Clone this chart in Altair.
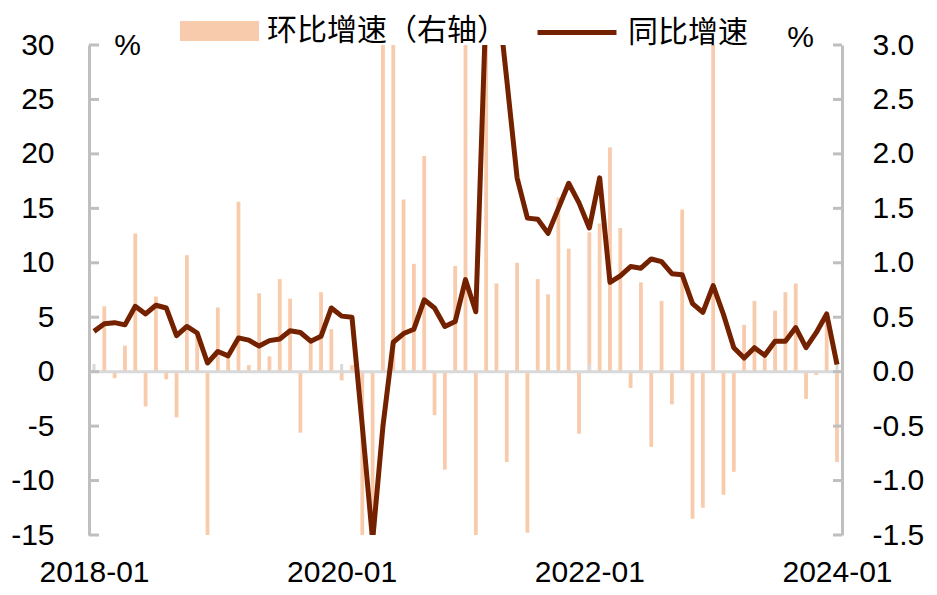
import altair as alt
import pandas as pd

# ---- data ----
months = [f"{2018 + i // 12}-{i % 12 + 1:02d}" for i in range(73)]
yoy = [3.7, 4.4, 4.5, 4.3, 6.0, 5.3, 6.1, 5.85, 3.3, 4.15, 3.55, 0.8,
       1.85, 1.45, 3.1, 2.9, 2.35, 2.85, 3.0, 3.75, 3.6, 2.8, 3.25, 5.85,
       5.1, 5.0, -5.0, -15.5, -5.0, 2.7, 3.5, 3.9, 6.6, 5.85, 4.15, 4.6,
       8.45, 5.5, 34.0, 35.6, 26.8, 17.8, 14.1, 14.0, 12.7, 15.0, 17.3, 15.5,
       13.2, 17.8, 8.2, 8.8, 9.65, 9.5, 10.35, 10.1, 9.0, 8.9, 6.25, 5.45,
       7.9, 5.25, 2.2, 1.25, 2.2, 1.5, 2.8, 2.8, 4.05, 2.2, 3.6, 5.3,
       0.65]
mom = [None, 0.60, -0.06, 0.24, 1.27, -0.32, 0.69, -0.07, -0.42, 1.07, 0.36, -1.9,
       0.59, 0.14, 1.56, 0.06, 0.72, 0.14, 0.85, 0.67, -0.56, 0.29, 0.73, 0.39,
       -0.08, 0.06, -2.2, -1.8, 3.4, 3.2, 1.58, 0.99, 1.98, -0.40, -0.90, 0.97,
       3.1, -1.6, 3.3, 0.81, -0.83, 1.00, -1.48, 0.85, 0.71, 1.60, 1.13, -0.57,
       1.28, 1.36, 2.06, 1.32, -0.15, 0.82, -0.69, 0.65, -0.30, 1.49, -1.35, -1.25,
       3.2, -1.13, -0.92, 0.43, 0.65, 0.14, 0.56, 0.73, 0.81, -0.25, -0.03, 0.50,
       -0.83]
left_ticks = [-15, -10, -5, 0, 5, 10, 15, 20, 25, 30]
right_ticks = [-1.5, -1.0, -0.5, 0.0, 0.5, 1.0, 1.5, 2.0, 2.5, 3.0]
x_label_idx = [0, 24, 48, 72]
name_mom = "环比增速（右轴）"
name_yoy = "同比增速"

df = pd.DataFrame({
    "idx": list(range(73)),
    "month": months,
    "yoy": yoy,
    "mom": mom,
    "s_mom": name_mom,
    "s_yoy": name_yoy,
})

W, H = 753, 490
BAR = "#F8CBAD"
LINE = "#742100"
AXIS = "#BFBFBF"
ZERO = "#D9D9D9"
FONT = "Liberation Sans"
CJK = "Noto Sans CJK SC"

x_scale = alt.Scale(domain=[0, 72], nice=False, zero=False)
x_axis = alt.Axis(values=x_label_idx, labelExpr="toString(2018 + datum.value / 12) + '-01'",
                  domain=False, ticks=False, tickSize=0, grid=False, title=None,
                  labelFontSize=30, labelFont=FONT, labelColor="black", labelPadding=22,
                  labelFlush=False, labelOverlap=False)

def lsc():
    return alt.Scale(domain=[-15, 30], nice=False, zero=False)

def rsc():
    return alt.Scale(domain=[-1.5, 3.0], nice=False, zero=False)

base = alt.Chart(df)

bars = base.mark_bar(size=3.8, clip=True).encode(
    x=alt.X("idx:Q", scale=x_scale, axis=x_axis),
    y=alt.Y("mom:Q", scale=rsc(), stack=None,
            axis=alt.Axis(orient="right", values=right_ticks,
                          labelExpr="(datum.value < 0 ? '-' : '') + format(abs(datum.value), '.1f')",
                          domain=True, domainColor=AXIS, domainWidth=3,
                          ticks=False, tickSize=0, grid=False,
                          labelFontSize=30, labelFont=FONT, labelColor="black",
                          labelPadding=30, labelAlign="left", labelOverlap=False,
                          title="%", titleAngle=0, titleX=-42, titleY=-8,
                          titleAlign="center", titleBaseline="middle",
                          titleFontSize=30, titleFont=FONT, titleFontWeight="normal")),
    color=alt.Color("s_mom:N", scale=alt.Scale(domain=[name_mom], range=[BAR]),
                    legend=alt.Legend(title=None, orient="none", legendX=115.5, legendY=-29,
                                      symbolType="M-2.633,-0.667H2.633V0.667H-2.633Z",
                                      symbolSize=900, symbolStrokeWidth=0, symbolOpacity=1,
                                      labelFont=CJK, labelFontSize=30, labelColor="black",
                                      labelOffset=32.5, labelLimit=400, padding=0)),
)

zero = alt.Chart(pd.DataFrame({"z": [0]})).mark_rule(color=ZERO, strokeWidth=3).encode(
    y=alt.Y("z:Q", scale=lsc(), axis=None),
    x=alt.value(0), x2=alt.value(W),
)

xticks = alt.Chart(pd.DataFrame({"t": x_label_idx})).mark_rule(color=ZERO, strokeWidth=3).encode(
    x=alt.X("t:Q", scale=x_scale, axis=x_axis),
    y=alt.Y(datum=0, scale=lsc(), axis=None),
    y2=alt.Y2(datum=0.7),
)

lticks = alt.Chart(pd.DataFrame({"v": left_ticks})).mark_rule(color=AXIS, strokeWidth=3).encode(
    y=alt.Y("v:Q", scale=lsc(), axis=None),
    x=alt.value(0), x2=alt.value(10),
)

rticks = alt.Chart(pd.DataFrame({"v": right_ticks})).mark_rule(color=AXIS, strokeWidth=3).encode(
    y=alt.Y("v:Q", scale=rsc(), axis=None),
    x=alt.value(W - 9), x2=alt.value(W),
)

line = base.mark_line(strokeWidth=5, clip=True, strokeJoin="round").encode(
    x=alt.X("idx:Q", scale=x_scale, axis=x_axis),
    y=alt.Y("yoy:Q", scale=lsc(),
            axis=alt.Axis(orient="left", values=left_ticks,
                          labelExpr="(datum.value < 0 ? '-' : '') + format(abs(datum.value), 'd')",
                          domain=True, domainColor=AXIS, domainWidth=3,
                          ticks=False, tickSize=0, grid=False,
                          labelFontSize=30, labelFont=FONT, labelColor="black",
                          labelPadding=35, labelOverlap=False,
                          title="%", titleAngle=0, titleX=38, titleY=0,
                          titleAlign="center", titleBaseline="middle",
                          titleFontSize=30, titleFont=FONT, titleFontWeight="normal")),
    stroke=alt.Stroke("s_yoy:N", scale=alt.Scale(domain=[name_yoy], range=[LINE]),
                      legend=alt.Legend(title=None, orient="none", legendX=470.5, legendY=-30,
                                        symbolType="M-2.633,0H2.633", symbolSize=900,
                                        symbolStrokeWidth=5,
                                        labelFont=CJK, labelFontSize=30, labelColor="black",
                                        labelOffset=33.5, labelLimit=400, padding=0)),
)

chart = alt.layer(bars, zero, xticks, lticks, rticks, line).resolve_scale(
    y="independent"
).properties(
    width=W, height=H,
    autosize=alt.AutoSizeParams(type="none"),
    padding={"left": 81, "top": 37, "right": 86, "bottom": 52},
    background="white",
).configure_view(stroke=None)

chart.save("out.html", embed_options={"renderer": "svg", "actions": False})
